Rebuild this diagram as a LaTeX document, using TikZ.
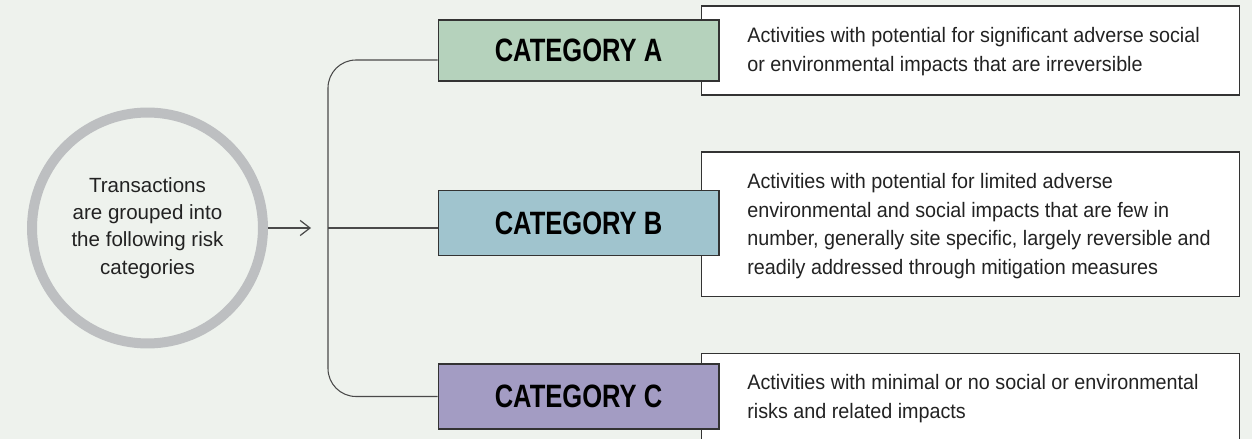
\documentclass[tikz,border=0pt]{standalone}
\usepackage{fontspec}
\setmainfont{Liberation Sans}
\newfontfamily\circfont[FakeStretch=1.0]{Liberation Sans}
\newfontfamily\descfont[FakeStretch=0.945]{Liberation Sans}
\newfontfamily\catfont[FakeStretch=0.79]{Liberation Sans}
\usetikzlibrary{arrows.meta}
\definecolor{bg}{HTML}{EEF2ED}
\definecolor{ring}{HTML}{BDBFC1}
\definecolor{conncol}{HTML}{4A4A4A}
\definecolor{edgecol}{HTML}{333333}
\definecolor{catAcol}{HTML}{B5D2BC}
\definecolor{catBcol}{HTML}{A0C4CE}
\definecolor{catCcol}{HTML}{A39CC3}
\definecolor{txtcol}{HTML}{222222}
\tikzset{
  catbox/.style={draw=edgecol, line width=0.6pt, minimum width=5.62cm, inner sep=0pt,
    font=\catfont\bfseries\fontsize{18.4}{20}\selectfont, text=black},
  descbox/.style={draw=edgecol, line width=0.6pt, fill=white, minimum width=10.76cm, inner sep=0pt, anchor=north west},
  desctext/.style={anchor=west, align=left, inner sep=0pt, text=txtcol,
    font=\descfont\fontsize{11.9}{16.4}\selectfont},
  conn/.style={draw=conncol, line width=0.6pt},
}
\begin{document}
\begin{tikzpicture}[x=0.02cm,y=-0.02cm]
\clip (0,0) rectangle (1252,439);
\fill[bg] (0,0) rectangle (1252,439);
\useasboundingbox (0,0) rectangle (1252,439);

% circle
\node[circle, draw=ring, line width=0.2cm, minimum size=4.62cm, inner sep=0pt,
  align=center, text=txtcol, font=\circfont\fontsize{11.7}{15.5}\selectfont] (circ) at (147.5,228)
  {Transactions\\are grouped into\\the following risk\\categories};

% description boxes
\node[descbox, minimum height=1.78cm] (descA) at (701,5.5) {};
\node[descbox, minimum height=2.89cm] (descB) at (701,151.5) {};
\node[descbox, minimum height=1.80cm] (descC) at (701,353) {};

\node[desctext] (txtA) at (747,52)
  {Activities with potential for significant adverse social\\or environmental impacts that are irreversible};
\node[desctext] (txtB) at (747,226)
  {Activities with potential for limited adverse\\environmental and social impacts that are few in\\number, generally site specific, largely reversible and\\readily addressed through mitigation measures};
\node[desctext] (txtC) at (747,398.5)
  {Activities with minimal or no social or environmental\\risks and related impacts};

% category boxes
\node[catbox, fill=catAcol, minimum height=1.22cm] (catA) at (578.5,50.5) {CATEGORY A};
\node[catbox, fill=catBcol, minimum height=1.30cm] (catB) at (578.5,223.2) {CATEGORY B};
\node[catbox, fill=catCcol, minimum height=1.30cm] (catC) at (578.5,396.5) {CATEGORY C};

% connectors
\coordinate (tip) at (311,228);
\coordinate (bx) at (328,228);
\coordinate (topy) at (328,60);
\draw[conn, -{Straight Barb[length=5.6pt,width=8.6pt,line width=0.7pt]}] (circ.east) -- (tip);
\draw[conn, rounded corners=0.56cm] (topy -| catA.west) -- (topy) -- (catC.west -| bx) -- (catC.west);
\draw[conn] (bx) -- (bx -| catB.west);
\end{tikzpicture}
\end{document}
